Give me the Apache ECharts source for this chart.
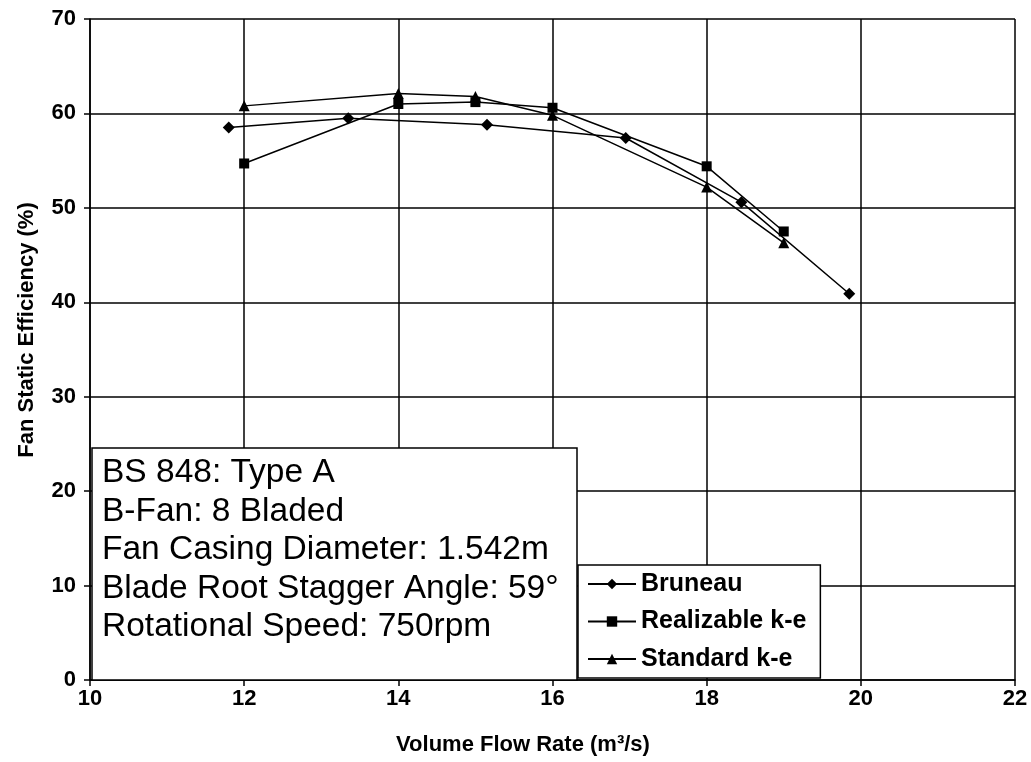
<!DOCTYPE html>
<html>
<head>
<meta charset="utf-8">
<script src="https://cdn.jsdelivr.net/npm/echarts@6/dist/echarts.min.js"></script>
<style>
  html, body { margin: 0; padding: 0; background: #fff; }
  #chart { width: 1031px; height: 762px; }
</style>
</head>
<body>
<div id="chart"></div>
<script>
// Fan static efficiency vs volume flow rate, three data sets
const bruneauFlow = [11.8, 13.35, 15.15, 16.95, 18.45, 19.85];
const bruneauEff  = [58.5, 59.5, 58.8, 57.4, 50.6, 40.9];
const realizableFlow = [12, 14, 15, 16, 18, 19];
const realizableEff  = [54.7, 61.0, 61.2, 60.6, 54.4, 47.5];
const standardFlow = [12, 14, 15, 16, 18, 19];
const standardEff  = [60.8, 62.1, 61.8, 59.8, 52.2, 46.3];

const seriesNames = ['Bruneau', 'Realizable k-e', 'Standard k-e'];
const infoLines = [
  'BS 848: Type A',
  'B-Fan: 8 Bladed',
  'Fan Casing Diameter: 1.542m',
  'Blade Root Stagger Angle: 59°',
  'Rotational Speed: 750rpm'
];
const xTitle = 'Volume Flow Rate (m³/s)';
const yTitle = 'Fan Static Efficiency (%)';

const pairs = (xs, ys) => xs.map((x, i) => [x, ys[i]]);

const FONT = '"Liberation Sans", Arial, sans-serif';
const lineStyle = { color: '#000', width: 1.5 };

function makeSeries(name, data, symbol, size) {
  return {
    name: name,
    type: 'line',
    data: data,
    symbol: symbol,
    symbolSize: size,
    itemStyle: { color: '#000' },
    lineStyle: lineStyle,
    z: 3
  };
}

const chart = echarts.init(document.getElementById('chart'), null, { renderer: 'canvas' });

chart.setOption({
  animation: false,
  backgroundColor: '#fff',
  grid: { left: 90, right: 16, top: 19, bottom: 82, show: false },
  xAxis: {
    type: 'value', min: 10, max: 22, interval: 2,
    axisLine: { show: true, lineStyle: { color: '#000', width: 1.5 } },
    axisTick: { show: true, length: 6, lineStyle: { color: '#000', width: 1.5 } },
    axisLabel: { fontFamily: FONT, fontWeight: 'bold', fontSize: 22, color: '#000', margin: 8 },
    splitLine: { show: true, lineStyle: { color: '#000', width: 1.5 } }
  },
  yAxis: {
    type: 'value', min: 0, max: 70, interval: 10,
    axisLine: { show: true, lineStyle: { color: '#000', width: 1.5 } },
    axisTick: { show: true, length: 6, lineStyle: { color: '#000', width: 1.5 } },
    axisLabel: { fontFamily: FONT, fontWeight: 'bold', fontSize: 22, color: '#000', margin: 14 },
    splitLine: { show: true, lineStyle: { color: '#000', width: 1.5 } }
  },
  legend: {
    data: seriesNames,
    orient: 'vertical',
    left: 578, top: 565,
    backgroundColor: '#fff',
    borderColor: '#000', borderWidth: 1.5, borderRadius: 0,
    padding: [6, 14, 6, 9],
    itemGap: 11.5,
    itemWidth: 48, itemHeight: 13,
    textStyle: { fontFamily: FONT, fontWeight: 'bold', fontSize: 25, lineHeight: 26, color: '#000' },
    z: 10
  },
  graphic: [
    // axis titles
    {
      type: 'text', z: 5,
      x: 523, y: 745,
      style: {
        text: xTitle, fontFamily: FONT, fontWeight: 'bold', fontSize: 22,
        fill: '#000', textAlign: 'center', textVerticalAlign: 'middle'
      }
    },
    {
      type: 'text', z: 5,
      x: 27, y: 330, rotation: Math.PI / 2,
      style: {
        text: yTitle, fontFamily: FONT, fontWeight: 'bold', fontSize: 22,
        fill: '#000', textAlign: 'center', textVerticalAlign: 'middle'
      }
    },
    // specification box
    {
      type: 'rect', z: 10,
      shape: { x: 92, y: 448, width: 485, height: 232 },
      style: { fill: '#fff', stroke: '#000', lineWidth: 1.5 }
    },
    {
      type: 'text', z: 11,
      x: 102, y: 454,
      style: {
        text: infoLines.join('\n'),
        fontFamily: FONT, fontSize: 33.5, lineHeight: 38.5,
        fill: '#000', textVerticalAlign: 'top'
      }
    }
  ],
  series: [
    makeSeries(seriesNames[0], pairs(bruneauFlow, bruneauEff), 'diamond', 12),
    makeSeries(seriesNames[1], pairs(realizableFlow, realizableEff), 'rect', 10),
    makeSeries(seriesNames[2], pairs(standardFlow, standardEff), 'triangle', 11)
  ]
});
</script>
</body>
</html>
